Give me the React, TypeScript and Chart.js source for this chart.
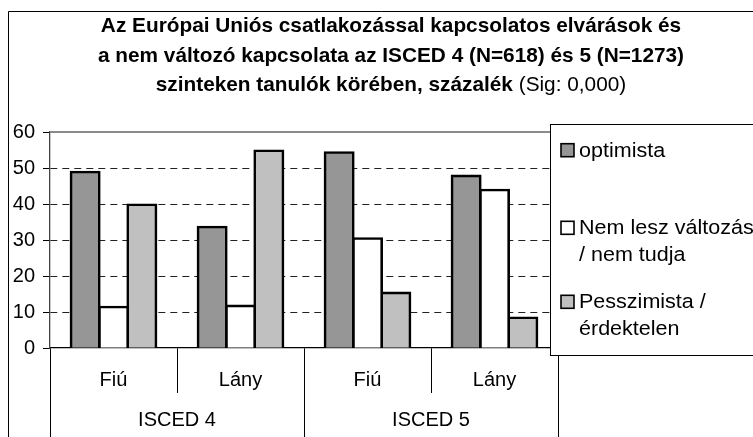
import React, { useEffect, useRef } from 'react';
import { Chart, registerables } from 'chart.js';

Chart.register(...registerables);

const categories = ['Fiú', 'Lány', 'Fiú', 'Lány'];
const groups = ['ISCED 4', 'ISCED 5'];
const optimista = [48.9, 33.6, 54.3, 47.8];
const nemValtozas = [11.4, 11.7, 30.4, 43.9];
const pesszimista = [39.8, 54.8, 15.3, 8.4];
const legendLines = [
  ['optimista'],
  ['Nem lesz változás', '/ nem tudja'],
  ['Pesszimista /', 'érdektelen'],
];
const seriesColors = ['#969696', '#ffffff', '#c0c0c0'];
const yTicks = [0, 10, 20, 30, 40, 50, 60];
const titleLines: { t: string; bold: boolean }[][] = [
  [{ t: 'Az Európai Uniós csatlakozással kapcsolatos elvárások és', bold: true }],
  [{ t: 'a nem változó kapcsolata az ISCED 4 (N=618) és 5 (N=1273)', bold: true }],
  [
    { t: 'szinteken tanulók körében, százalék', bold: true },
    { t: ' (Sig: 0,000)', bold: false },
  ],
];

const FAMILY = '"Liberation Sans", Arial, sans-serif';

const decorPlugin = {
  id: 'decor',
  beforeDraw(chart: any) {
    const ctx = chart.ctx as CanvasRenderingContext2D;
    ctx.save();
    ctx.fillStyle = '#fff';
    ctx.fillRect(0, 0, chart.width, chart.height);
    // outer chart border (cropped at right/bottom)
    ctx.strokeStyle = '#000';
    ctx.lineWidth = 1;
    ctx.beginPath();
    ctx.moveTo(8.5, chart.height + 2);
    ctx.lineTo(8.5, 11.5);
    ctx.lineTo(chart.width + 2, 11.5);
    ctx.stroke();
    // title
    const cx = 391;
    const baselines = [32, 62, 91];
    const fontFor = (b: boolean) => `${b ? 'bold ' : ''}20.8px ${FAMILY}`;
    ctx.fillStyle = '#000';
    ctx.textBaseline = 'alphabetic';
    ctx.textAlign = 'left';
    titleLines.forEach((segs, i) => {
      let total = 0;
      const widths = segs.map((s) => {
        ctx.font = fontFor(s.bold);
        const w = ctx.measureText(s.t).width;
        total += w;
        return w;
      });
      let x = cx - total / 2;
      segs.forEach((s, j) => {
        ctx.font = fontFor(s.bold);
        ctx.fillText(s.t, x, baselines[i]);
        x += widths[j];
      });
    });
    ctx.restore();
  },
  beforeDatasetsDraw(chart: any) {
    const { ctx, chartArea } = chart;
    ctx.save();
    ctx.strokeStyle = '#8a8a8a';
    ctx.lineWidth = 2;
    ctx.beginPath();
    ctx.moveTo(chartArea.left, chartArea.top);
    ctx.lineTo(chartArea.right, chartArea.top);
    ctx.stroke();
    ctx.restore();
  },
  afterDraw(chart: any) {
    const ctx = chart.ctx as CanvasRenderingContext2D;
    ctx.save();
    const lx = 550.5;
    const ly = 124.5;
    const lh = 231;
    ctx.fillStyle = '#fff';
    ctx.fillRect(lx, ly, chart.width, lh);
    ctx.strokeStyle = '#000';
    ctx.lineWidth = 1;
    ctx.strokeRect(lx, ly, chart.width, lh);
    const firstBaselines = [156.7, 234.3, 308.3];
    const lineGap = 26.3;
    const sx = 1.05;
    ctx.font = `20.5px ${FAMILY}`;
    ctx.textBaseline = 'alphabetic';
    ctx.textAlign = 'left';
    chart.data.datasets.forEach((ds: any, i: number) => {
      const b = firstBaselines[i];
      ctx.fillStyle = ds.backgroundColor;
      ctx.fillRect(561, b - 13, 13, 13);
      ctx.strokeStyle = '#000';
      ctx.lineWidth = 1.6;
      ctx.strokeRect(561, b - 13, 13, 13);
      ctx.fillStyle = '#000';
      legendLines[i].forEach((line, k) => {
        ctx.save();
        ctx.translate(579, b + k * lineGap);
        ctx.scale(sx, 1);
        ctx.fillText(line, 0, 0);
        ctx.restore();
      });
    });
    ctx.restore();
  },
};

export default function App() {
  const ref = useRef<HTMLCanvasElement | null>(null);
  useEffect(() => {
    if (!ref.current) return;
    const barCommon = {
      borderColor: '#000',
      borderWidth: 2.6,
      inflateAmount: 1.3,
      categoryPercentage: 0.67,
      barPercentage: 1,
    };
    const chart = new Chart(ref.current, {
      type: 'bar',
      data: {
        labels: categories,
        datasets: [
          { label: legendLines[0].join(' '), data: optimista, backgroundColor: seriesColors[0], ...barCommon },
          { label: legendLines[1].join(' '), data: nemValtozas, backgroundColor: seriesColors[1], ...barCommon },
          { label: legendLines[2].join(' '), data: pesszimista, backgroundColor: seriesColors[2], ...barCommon },
        ],
      },
      options: {
        animation: false,
        responsive: true,
        maintainAspectRatio: false,
        layout: { padding: { top: 132, right: 195, left: 0, bottom: 0 } },
        plugins: {
          legend: { display: false },
          title: { display: false },
          tooltip: { enabled: false },
        },
        scales: {
          x: {
            type: 'category',
            position: 'bottom',
            weight: 0,
            offset: true,
            grid: {
              offset: true,
              drawOnChartArea: false,
              drawTicks: true,
              tickLength: 45,
              color: '#000',
              tickColor: '#000',
            },
            border: { display: true, color: '#000', width: 1.3 },
            ticks: {
              color: '#000',
              font: { family: FAMILY, size: 20 },
              padding: -25,
              autoSkip: false,
              maxRotation: 0,
            },
            afterFit(s: any) {
              s.height = 44;
            },
          },
          x2: {
            type: 'category',
            position: 'bottom',
            weight: 1,
            labels: groups,
            offset: true,
            grid: {
              offset: true,
              drawOnChartArea: false,
              drawTicks: true,
              tickLength: 50,
              color: '#000',
              tickColor: '#000',
            },
            border: { display: false },
            ticks: {
              color: '#000',
              font: { family: FAMILY, size: 20 },
              padding: -34,
              autoSkip: false,
              maxRotation: 0,
            },
            afterFit(s: any) {
              s.height = 45;
            },
          },
          y: {
            min: 0,
            max: 60,
            afterBuildTicks(s: any) {
              s.ticks = yTicks.map((v) => ({ value: v }));
            },
            ticks: {
              color: '#000',
              font: { family: FAMILY, size: 20 },
              padding: 8,
            },
            grid: {
              color: (c: any) =>
                c.tick && (c.tick.value === 0 || c.tick.value === 60) ? 'rgba(0,0,0,0)' : '#222',
              tickColor: '#000',
              tickLength: 7,
              tickBorderDash: [],
              lineWidth: 1,
            },
            border: { display: true, color: '#444', width: 1.3, dash: [7, 5] },
            afterFit(s: any) {
              s.width = 50;
            },
          },
        },
      },
      plugins: [decorPlugin],
    } as any);
    return () => chart.destroy();
  }, []);
  return (
    <div style={{ position: 'fixed', left: 0, top: 0, width: 753, height: 437, background: '#fff' }}>
      <canvas ref={ref} />
    </div>
  );
}
